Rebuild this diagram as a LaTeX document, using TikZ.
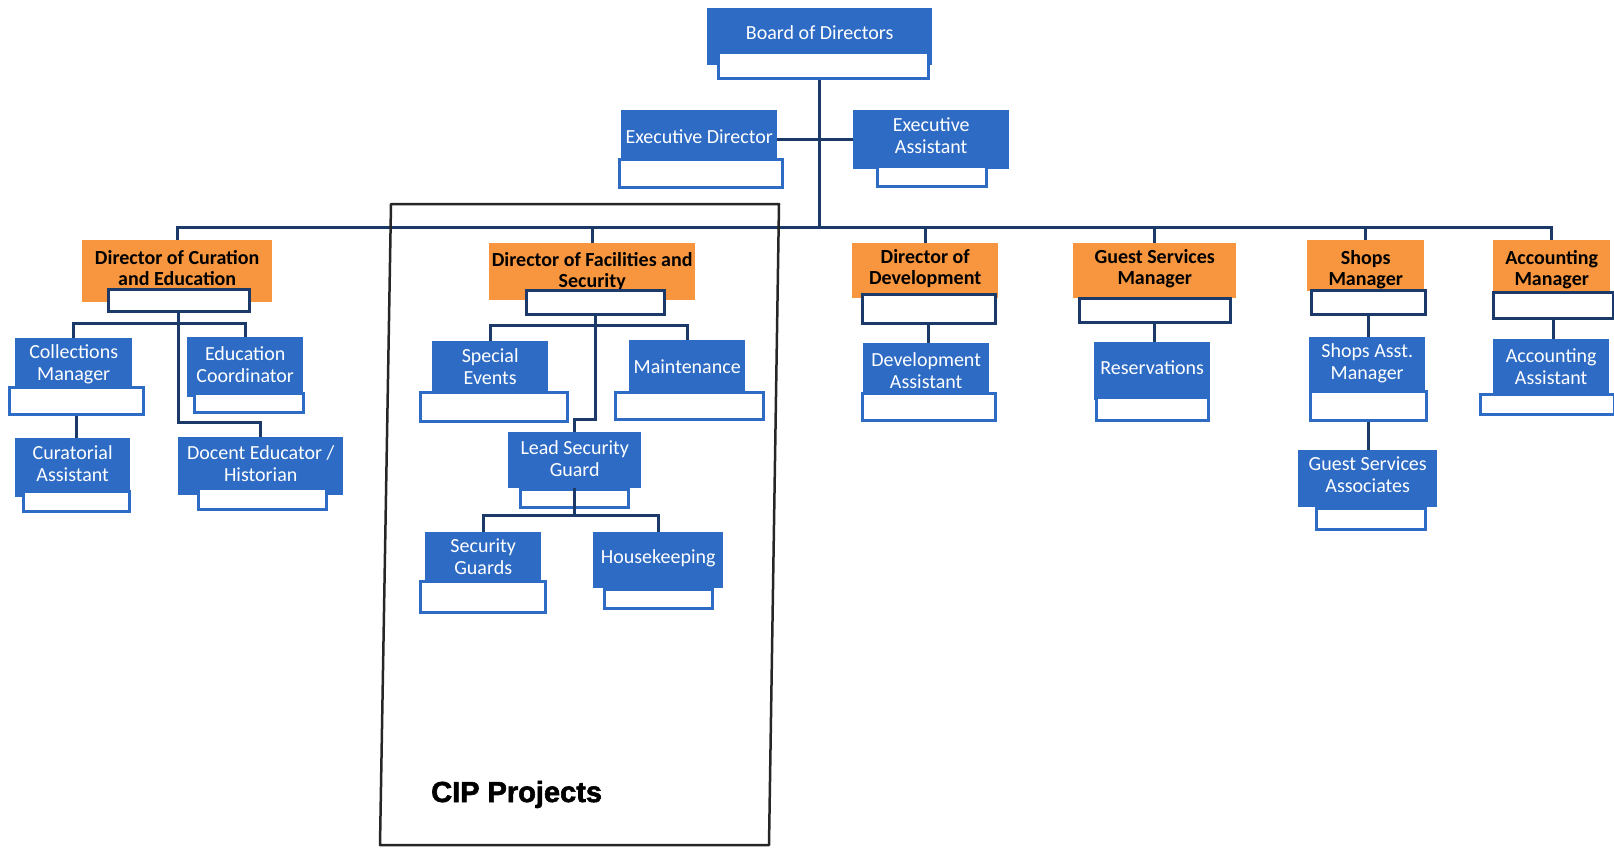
\documentclass[tikz,border=0pt]{standalone}
\usepackage{fontspec}
\setmainfont{Carlito}
\newfontfamily\cipfont{Liberation Sans}[BoldFeatures={FakeBold=2}]
\usepackage{tikz}
\usetikzlibrary{calc,positioning}
\definecolor{boxblue}{RGB}{45,107,196}
\definecolor{headorange}{RGB}{247,150,62}
\definecolor{linenavy}{RGB}{28,58,105}
\newcommand{\lift}[1]{\rule[-#1]{0pt}{0pt}}
\newcommand{\sink}[1]{\rule{0pt}{#1}}
\tikzset{
  post/.style={fill=boxblue, text=white, anchor=north west, align=center, inner sep=2pt,
    font=\fontsize{20}{22}\selectfont},
  head/.style={post, fill=headorange, text=black, font=\fontsize{20}{21}\selectfont\bfseries},
  namebox/.style={draw=boxblue, line width=2.5pt, fill=white, anchor=north west, inner sep=0pt},
  headname/.style={namebox, draw=linenavy},
  conn/.style={draw=linenavy, line width=3pt},
  cipframe/.style={draw=black!85, line width=2.5pt, line join=round}
}

\begin{document}
\begin{tikzpicture}[x=1pt, y=-1pt]
  \useasboundingbox (0,0) rectangle (1614,847);

  \node[post, minimum width=225pt, minimum height=57pt] (board) at (707,8) {Board of Directors\lift{9pt}};
  \node[namebox, minimum width=210pt, minimum height=26pt] (board-n) at (717,51) {};
  \node[post, minimum width=156pt, minimum height=48pt] (execdir) at (621,110) {\sink{18pt}Executive Director};
  \node[namebox, minimum width=163pt, minimum height=28pt] (execdir-n) at (618,158) {};
  \node[post, minimum width=156pt, minimum height=59pt] (execasst) at (853,110) {Executive\\Assistant\lift{9pt}};
  \node[namebox, minimum width=109pt, minimum height=20pt] (execasst-n) at (876,165) {};

  \node[head, minimum width=190pt, minimum height=62pt] (curdir) at (82,240) {Director of Curation\\and Education\lift{6pt}};
  \node[headname, minimum width=141pt, minimum height=22pt] (curdir-n) at (107,288) {};
  \node[post, minimum width=117pt, minimum height=49pt] (colmgr) at (15,338) {\sink{18pt}Collections\\Manager};
  \node[namebox, minimum width=134pt, minimum height=27pt] (colmgr-n) at (8,386) {};
  \node[post, minimum width=116pt, minimum height=60pt] (edcoord) at (187,337) {Education\\Coordinator\lift{6pt}};
  \node[namebox, minimum width=109pt, minimum height=19pt] (edcoord-n) at (193,392) {};
  \node[post, minimum width=115pt, minimum height=59pt] (curat) at (15,438) {Curatorial\\Assistant\lift{8pt}};
  \node[namebox, minimum width=106pt, minimum height=20pt] (curat-n) at (22,490) {};
  \node[post, minimum width=165pt, minimum height=58pt] (docent) at (178,437) {Docent Educator /\\Historian\lift{6pt}};
  \node[namebox, minimum width=128pt, minimum height=21pt] (docent-n) at (197,487) {};

  \node[head, minimum width=206pt, minimum height=57pt] (facdir) at (489,243) {Director of Facilities and\\Security};
  \node[headname, minimum width=138pt, minimum height=24pt] (facdir-n) at (525,289) {};
  \node[post, minimum width=116pt, minimum height=51pt] (specev) at (432,341) {Special\\Events};
  \node[namebox, minimum width=147pt, minimum height=29pt] (specev-n) at (419,391) {};
  \node[post, minimum width=116pt, minimum height=52pt] (maint) at (629,340) {Maintenance};
  \node[namebox, minimum width=148pt, minimum height=27pt] (maint-n) at (614,391) {};
  \node[post, minimum width=133pt, minimum height=56pt] (lead) at (508,432) {Lead Security\\Guard\lift{4pt}};
  \node[namebox, minimum width=108pt, minimum height=18pt] (lead-n) at (519,488) {};
  \node[post, minimum width=116pt, minimum height=48pt] (secg) at (425,532) {Security\\Guards};
  \node[namebox, minimum width=125pt, minimum height=31pt] (secg-n) at (419,580) {};
  \node[post, minimum width=130pt, minimum height=56pt] (house) at (593,532) {Housekeeping\lift{7pt}};
  \node[namebox, minimum width=108pt, minimum height=19pt] (house-n) at (603,588) {};

  \node[head, minimum width=146pt, minimum height=55pt] (devdir) at (852,243) {Director of\\Development\lift{7pt}};
  \node[headname, minimum width=133pt, minimum height=29pt] (devdir-n) at (861,293) {};
  \node[post, minimum width=126pt, minimum height=54pt] (devasst) at (863,343) {Development\\Assistant};
  \node[namebox, minimum width=133pt, minimum height=27pt] (devasst-n) at (861,392) {};

  \node[head, minimum width=163pt, minimum height=55pt] (gsmgr) at (1073,243) {Guest Services\\Manager\lift{7pt}};
  \node[headname, minimum width=151pt, minimum height=24pt] (gsmgr-n) at (1078,297) {};
  \node[post, minimum width=116pt, minimum height=58pt] (resv) at (1094,342) {Reservations\lift{7pt}};
  \node[namebox, minimum width=112pt, minimum height=23pt] (resv-n) at (1095,396) {};

  \node[head, minimum width=117pt, minimum height=49pt] (shopmgr) at (1307,240) {\sink{22pt}Shops\\Manager};
  \node[headname, minimum width=114pt, minimum height=24pt] (shopmgr-n) at (1310,289) {};
  \node[post, minimum width=116pt, minimum height=53pt] (shopasst) at (1309,337) {Shops Asst.\\Manager};
  \node[namebox, minimum width=116pt, minimum height=29pt] (shopasst-n) at (1309,390) {};
  \node[post, minimum width=139pt, minimum height=57pt] (gsa) at (1298,450) {Guest Services\\Associates\lift{9pt}};
  \node[namebox, minimum width=109pt, minimum height=21pt] (gsa-n) at (1315,507) {};

  \node[head, minimum width=117pt, minimum height=52pt] (acctmgr) at (1493,240) {\sink{20pt}Accounting\\Manager};
  \node[headname, minimum width=120pt, minimum height=26pt] (acctmgr-n) at (1492,291) {};
  \node[post, minimum width=116pt, minimum height=54pt] (acctasst) at (1493,339) {Accounting\\Assistant};
  \node[namebox, minimum width=134pt, minimum height=20pt] (acctasst-n) at (1479,393) {};

  \coordinate (bus) at (819,227);
  \draw[conn] (board-n.south -| bus) -- (bus);
  \draw[conn] (curdir.north) -- (curdir.north |- bus) -| (acctmgr.north);
  \draw[conn] (execasst.west) -- (execasst.west -| execdir.east);
  \draw[conn] (facdir.north) -- (facdir.north |- bus);
  \draw[conn] (devdir.north) -- (devdir.north |- bus);
  \draw[conn] (gsmgr.north) -- (gsmgr.north |- bus);
  \draw[conn] (shopmgr.north) -- (shopmgr.north |- bus);

  \draw[conn] (colmgr.north) -- ++(0,-15) -| (edcoord.north);
  \draw[conn] (curdir-n.south) -- ++(0,110) -| (docent.north);
  \draw[conn] (colmgr-n.south) -- (colmgr-n.south |- curat.north);

  \draw[conn] (specev.north) -- ++(0,-16) -| (maint.north);
  \draw[conn] (facdir-n.south) -- ++(0,104) -| (lead.north);
  \draw[conn] (secg.north) -- ++(0,-17) -| (house.north);
  \draw[conn] (lead.south) -- ++(0,27);

  \draw[conn] (devdir-n.south) -- (devdir-n.south |- devasst.north);
  \draw[conn] (gsmgr-n.south) -- (gsmgr-n.south |- resv.north);
  \draw[conn] (shopmgr-n.south) -- (shopmgr-n.south |- shopasst.north);
  \draw[conn] (shopasst-n.south) -- (shopasst-n.south |- gsa.north);
  \draw[conn] (acctmgr-n.south) -- (acctmgr-n.south |- acctasst.north);

  \draw[cipframe] (391,204) -- (779,204) -- (769,845) -- (380,845) -- cycle;
  \node[anchor=base west, inner sep=0pt, font=\cipfont\fontsize{29}{31}\selectfont\bfseries] (cip) at (431,802) {CIP Projects};
\end{tikzpicture}
\end{document}
